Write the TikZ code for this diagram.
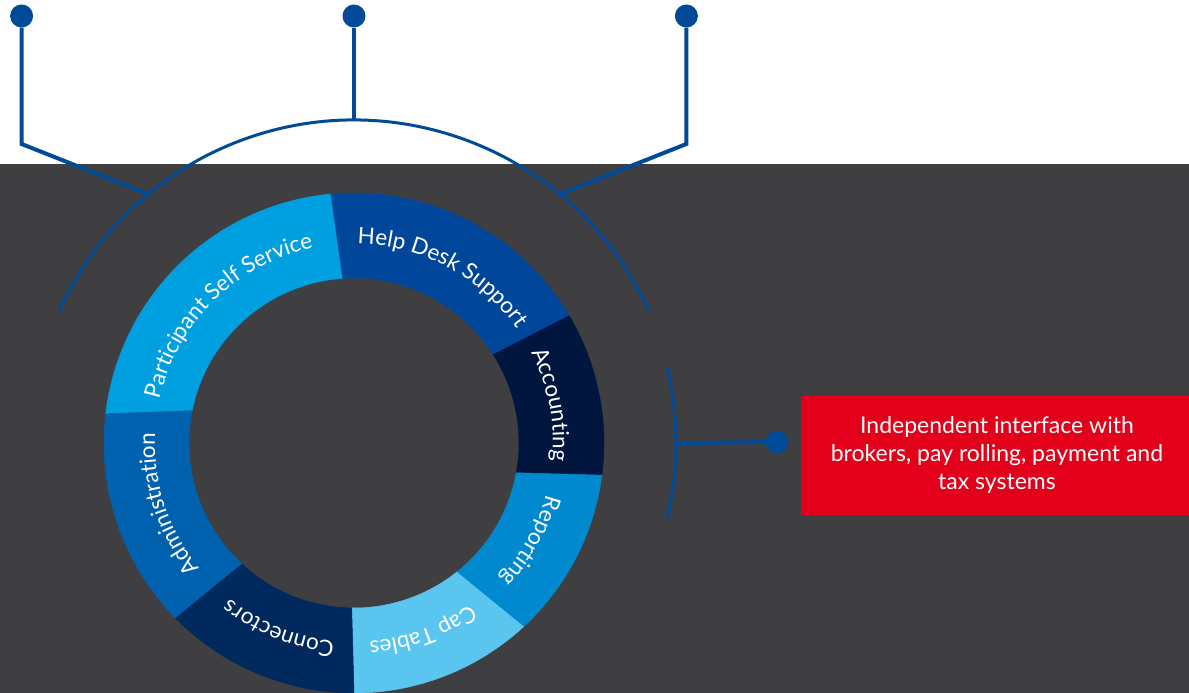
\documentclass[tikz,border=0pt]{standalone}
\usepackage{fontspec}
\setmainfont{Lato}
\usetikzlibrary{decorations.text}
\definecolor{bg}{HTML}{3F3F41}
\definecolor{lineblue}{HTML}{004A98}
\definecolor{cPSS}{HTML}{009FE0}
\definecolor{cHDS}{HTML}{00479B}
\definecolor{cAcc}{HTML}{00163F}
\definecolor{cRep}{HTML}{0089CF}
\definecolor{cCap}{HTML}{5AC5EE}
\definecolor{cCon}{HTML}{00295E}
\definecolor{cAdm}{HTML}{0062AE}
\definecolor{redbox}{HTML}{E2001A}
\newcommand\ringseg[5]{\fill[#1,draw=#1,line width=0.5pt] (#2:250) arc[start angle=#2,end angle=#3,radius=250] -- (#4:165) arc[start angle=#4,end angle=#5,radius=165] -- cycle;}
\newcommand\lblfont{\fontsize{22.5}{22.5}\selectfont}
\newcommand\ringtext[2]{\path[ringlabel, decoration={text={|\lblfont|#2}}] ({#1+80}:199) arc[start angle={#1+80}, end angle={#1-80}, radius=199];}
\begin{document}
\begin{tikzpicture}[x=1pt,y=1pt,
  conn/.style={draw=lineblue, line width=4pt},
  bigarc/.style={draw=lineblue, line width=3pt},
  dot/.style={circle, fill=lineblue, minimum size=23pt, inner sep=0pt},
  ringlabel/.style={decorate, decoration={text along path, text align=center, text color=white}}]
\useasboundingbox (-354,-250) rectangle (835,443);
\fill[white] (-354,-250) rectangle (835,443);
\fill[bg] (-354,-250) rectangle (835,279);
% ring segments
\ringseg{cPSS}{173.3}{95.3}{93.9}{168.7}
\ringseg{cHDS}{95.3}{30.6}{32.4}{93.9}
\ringseg{cAcc}{30.6}{-7.4}{-10.4}{32.4}
\ringseg{cRep}{-7.4}{-47.3}{-51.5}{-10.4}
\ringseg{cCap}{-47.3}{-90}{-90.8}{-51.5}
\ringseg{cCon}{-90}{-135.7}{-133}{-90.8}
\ringseg{cAdm}{-135.7}{-186.7}{-191.3}{-133}
% labels
\ringtext{134.5}{Participant Self Service}
\ringtext{62}{Help Desk Support}
\ringtext{11}{Accounting}
\ringtext{-29}{Reporting}
\ringtext{-70}{Cap Tables}
\ringtext{-112}{Connectors}
\ringtext{-162}{Administration}
% big arcs
\draw[bigarc] (24:323) arc[start angle=24,end angle=156,radius=323];
\draw[bigarc] (13.5:322) arc[start angle=13.5,end angle=-13.5,radius=322];
% dots
\node[dot] (d1) at (-332.4,427) {};
\node[dot] (d2) at (0,427) {};
\node[dot] (d3) at (332.4,427) {};
\node[dot] (d4) at (423,1) {};
\coordinate (c1) at (-332.4,299);
\coordinate (c3) at (332.4,299);
\coordinate (a1) at (129.6:323);
\coordinate (a2) at (90:323);
\coordinate (a3) at (50.4:323);
\coordinate (a4) at (0:322);
\draw[conn] (d1) -- (c1) -- (a1);
\draw[conn] (d2) -- (a2);
\draw[conn] (d3) -- (c3) -- (a3);
\draw[conn] (a4) -- (d4);
% red box
\node[fill=redbox, minimum width=388pt, minimum height=119pt, inner sep=0pt] (box) at (641,-12.5) {};
\node[text=white, align=center, font=\fontsize{23}{28}\selectfont] (boxtext) at (643,-12.5) {Independent interface with\\brokers, pay rolling, payment and\\tax systems};
\end{tikzpicture}
\end{document}
